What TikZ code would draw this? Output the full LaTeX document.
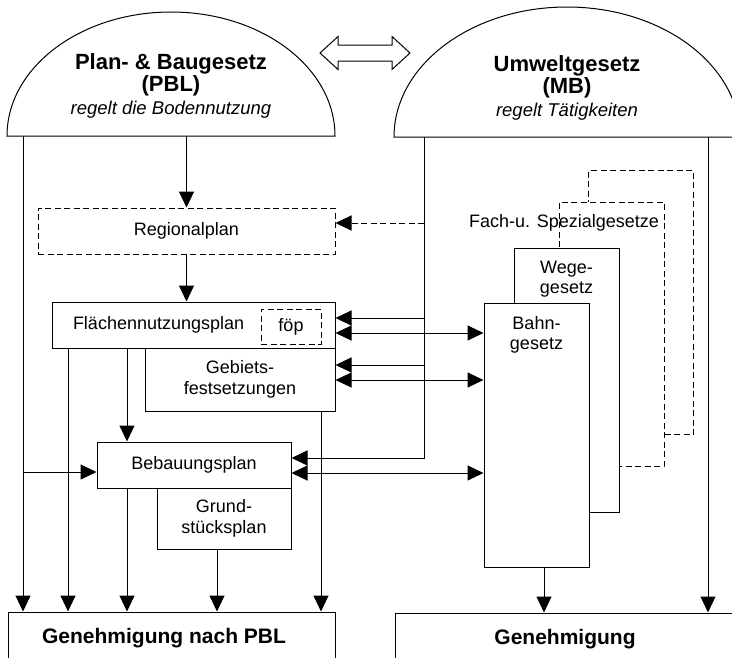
\documentclass[tikz,border=0pt]{standalone}
\usepackage{fontspec}
\setmainfont{Liberation Sans}
\usetikzlibrary{arrows.meta}

\tikzset{
  box/.style={draw, fill=white, inner sep=0pt, align=center,
    font=\fontsize{18}{21}\selectfont},
  dbox/.style={box, dash pattern=on 6pt off 3.5pt},
  arr/.style={-{Triangle[length=16pt,width=15pt]}},
  darr/.style={{Triangle[length=16pt,width=15pt]}-{Triangle[length=16pt,width=15pt]}},
  title/.style={align=center, inner sep=0pt, anchor=north,
    font=\bfseries\fontsize{22}{22}\selectfont},
  gesetz/.style={box, minimum width=105pt, minimum height=264pt},
  toplabel/.style={anchor=north, inner sep=0pt, yshift=-13pt, align=center,
    font=\fontsize{18}{20}\selectfont}
}

\begin{document}
\begin{tikzpicture}[x=1pt, y=-1pt, line width=1pt]
\clip (0,0) rectangle (732,657);

% Gesetze oben
\draw (7,136) arc[start angle=180, end angle=360, x radius=164, y radius=124] -- cycle;
\draw (394,137) arc[start angle=180, end angle=360, x radius=173, y radius=130] -- cycle;
\coordinate (pblbase) at (171,136);
\coordinate (mbbase) at (567,137);
\node[title] (pbl) at (171,53) {Plan- \& Baugesetz\\(PBL)\\[1pt]
  {\mdseries\itshape\fontsize{18.5}{21}\selectfont regelt die Bodennutzung}};
\node[title] (mb) at (567,55) {Umweltgesetz\\(MB)\\[1pt]
  {\mdseries\itshape\fontsize{18.5}{21}\selectfont regelt T\"atigkeiten}};
\draw (320,53) -- (338,36.5) -- (338,45) -- (392,45) -- (392,36.5) -- (410,53)
  -- (392,69.5) -- (392,61) -- (338,61) -- (338,69.5) -- cycle;

% Plaene nach PBL
\node[dbox, minimum width=297pt, minimum height=46pt] (regional) at (186.5,231) {Regionalplan};
\node[box, minimum width=283pt, minimum height=46pt,
  label={[anchor=west, inner sep=0pt, xshift=21pt, font=\fontsize{18}{21}\selectfont]west:Fl\"achennutzungsplan}]
  (fnp) at (193.5,325) {};
\node[dbox, minimum width=60pt, minimum height=35pt] (foep) at (291,326.5) {f\"op};
\node[box, minimum width=190pt, minimum height=63pt] (gebiet) at (240,379.5) {Gebiets-\\festsetzungen};
\node[box, minimum width=194pt, minimum height=46pt] (bplan) at (194,465) {Bebauungsplan};
\node[box, minimum width=134pt, minimum height=61pt] (grund) at (224,518.5) {Grund-\\st\"ucksplan};
\node[box, minimum width=327pt, minimum height=52pt,
  label={[inner sep=0pt, xshift=-7.5pt, font=\bfseries\fontsize{21}{21}\selectfont]center:Genehmigung nach PBL}]
  (genpbl) at (171.5,638) {};

% Fach- und Spezialgesetze
\node[gesetz, dash pattern=on 6pt off 3.5pt] (fach2) at (641,302.5) {};
\node[gesetz, dash pattern=on 6pt off 3.5pt] (fach1) at (611.5,334) {};
\node[font=\fontsize{18}{21}\selectfont, inner sep=0pt] (fachlabel) at (564,223) {Fach-u. Spezialgesetze};
\node[gesetz, label={[toplabel]north:Wege-\\gesetz}] (wege) at (566.5,380) {};
\node[gesetz, label={[toplabel]north:Bahn-\\gesetz}] (bahn) at (536.5,435) {};
\node[box, minimum width=340pt, minimum height=52pt,
  font=\bfseries\fontsize{21}{21}\selectfont] (gen) at (565,639) {Genehmigung};

% Spalten und Zeilen der Verbindungen
\coordinate (c1) at (23,0);  \coordinate (c2) at (68,0);
\coordinate (c3) at (127,0); \coordinate (c4) at (217,0);
\coordinate (c5) at (321,0); \coordinate (c6) at (424,0);
\coordinate (c7) at (544,0); \coordinate (c8) at (708,0);
\coordinate (r1) at (0,223); \coordinate (r2) at (0,318);
\coordinate (r3) at (0,333); \coordinate (r4) at (0,365);
\coordinate (r5) at (0,380); \coordinate (r6) at (0,458);
\coordinate (r7) at (0,473); \coordinate (r8) at (0,472);

% Verbindungen PBL
\draw[arr] (c1 |- pblbase) -- (c1 |- genpbl.north);
\draw[arr] (c1 |- r8) -- (bplan.west |- r8);
\draw[arr] (regional.north |- pblbase) -- (regional.north);
\draw[arr] (regional.south) -- (regional.south |- fnp.north);
\draw[arr] (c2 |- fnp.south) -- (c2 |- genpbl.north);
\draw[arr] (c3 |- fnp.south) -- (c3 |- bplan.north);
\draw[arr] (c3 |- bplan.south) -- (c3 |- genpbl.north);
\draw[arr] (c4 |- grund.south) -- (c4 |- genpbl.north);
\draw[arr] (c5 |- gebiet.south) -- (c5 |- genpbl.north);

% Verbindungen MB
\draw[arr] (c6 |- mbbase) -- (c6 |- r6) -- (bplan.east |- r6);
\draw[arr] (c6 |- r2) -- (fnp.east |- r2);
\draw[arr] (c6 |- r4) -- (gebiet.east |- r4);
\draw[arr, dash pattern=on 6pt off 3.5pt] (c6 |- r1) -- (regional.east |- r1);
\draw[darr] (fnp.east |- r3) -- (bahn.west |- r3);
\draw[darr] (gebiet.east |- r5) -- (bahn.west |- r5);
\draw[darr] (bplan.east |- r7) -- (bahn.west |- r7);
\draw[arr] (c7 |- bahn.south) -- (c7 |- gen.north);
\draw[arr] (c8 |- mbbase) -- (c8 |- gen.north);
\end{tikzpicture}
\end{document}
